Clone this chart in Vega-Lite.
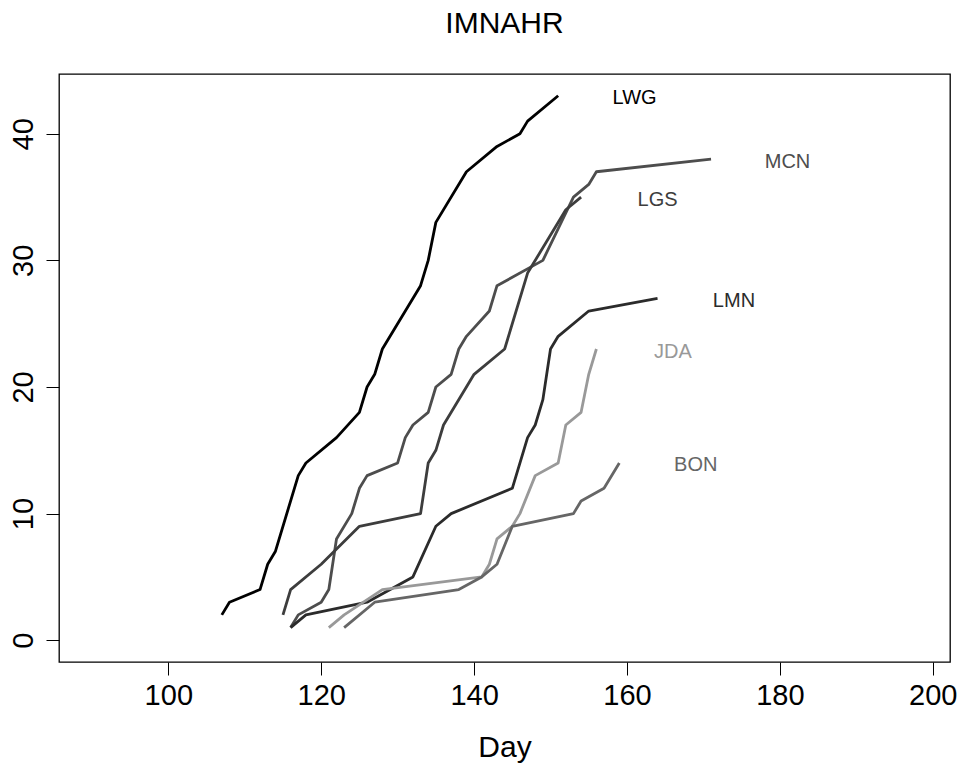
{
  "$schema": "https://vega.github.io/schema/vega-lite/v6.json",
  "autosize": "none",
  "width": 891,
  "height": 588,
  "padding": {"left": 59, "top": 74, "right": 15, "bottom": 108},
  "background": "white",
  "config": {
    "view": {"stroke": "#000000", "strokeWidth": 1.3},
    "font": "Liberation Sans"
  },
  "title": {
    "text": "IMNAHR",
    "fontSize": 30,
    "fontWeight": "normal",
    "font": "Liberation Sans",
    "color": "#000000",
    "anchor": "middle",
    "frame": "group",
    "baseline": "bottom",
    "offset": 5
  },
  "datasets": {
    "counts": [
      {"station": "LWG", "day": 107, "n": 2},
      {"station": "LWG", "day": 108, "n": 3},
      {"station": "LWG", "day": 112, "n": 4},
      {"station": "LWG", "day": 113, "n": 6},
      {"station": "LWG", "day": 114, "n": 7},
      {"station": "LWG", "day": 117, "n": 13},
      {"station": "LWG", "day": 118, "n": 14},
      {"station": "LWG", "day": 122, "n": 16},
      {"station": "LWG", "day": 125, "n": 18},
      {"station": "LWG", "day": 126, "n": 20},
      {"station": "LWG", "day": 127, "n": 21},
      {"station": "LWG", "day": 128, "n": 23},
      {"station": "LWG", "day": 133, "n": 28},
      {"station": "LWG", "day": 134, "n": 30},
      {"station": "LWG", "day": 135, "n": 33},
      {"station": "LWG", "day": 139, "n": 37},
      {"station": "LWG", "day": 143, "n": 39},
      {"station": "LWG", "day": 146, "n": 40},
      {"station": "LWG", "day": 147, "n": 41},
      {"station": "LWG", "day": 151, "n": 43},

      {"station": "MCN", "day": 116, "n": 1},
      {"station": "MCN", "day": 117, "n": 2},
      {"station": "MCN", "day": 120, "n": 3},
      {"station": "MCN", "day": 121, "n": 4},
      {"station": "MCN", "day": 122, "n": 8},
      {"station": "MCN", "day": 124, "n": 10},
      {"station": "MCN", "day": 125, "n": 12},
      {"station": "MCN", "day": 126, "n": 13},
      {"station": "MCN", "day": 130, "n": 14},
      {"station": "MCN", "day": 131, "n": 16},
      {"station": "MCN", "day": 132, "n": 17},
      {"station": "MCN", "day": 134, "n": 18},
      {"station": "MCN", "day": 135, "n": 20},
      {"station": "MCN", "day": 137, "n": 21},
      {"station": "MCN", "day": 138, "n": 23},
      {"station": "MCN", "day": 139, "n": 24},
      {"station": "MCN", "day": 142, "n": 26},
      {"station": "MCN", "day": 143, "n": 28},
      {"station": "MCN", "day": 149, "n": 30},
      {"station": "MCN", "day": 153, "n": 35},
      {"station": "MCN", "day": 155, "n": 36},
      {"station": "MCN", "day": 156, "n": 37},
      {"station": "MCN", "day": 171, "n": 38},

      {"station": "LGS", "day": 115, "n": 2},
      {"station": "LGS", "day": 116, "n": 4},
      {"station": "LGS", "day": 120, "n": 6},
      {"station": "LGS", "day": 125, "n": 9},
      {"station": "LGS", "day": 133, "n": 10},
      {"station": "LGS", "day": 134, "n": 14},
      {"station": "LGS", "day": 135, "n": 15},
      {"station": "LGS", "day": 136, "n": 17},
      {"station": "LGS", "day": 140, "n": 21},
      {"station": "LGS", "day": 144, "n": 23},
      {"station": "LGS", "day": 147, "n": 29},
      {"station": "LGS", "day": 152, "n": 34},
      {"station": "LGS", "day": 154, "n": 35},

      {"station": "LMN", "day": 116, "n": 1},
      {"station": "LMN", "day": 118, "n": 2},
      {"station": "LMN", "day": 126, "n": 3},
      {"station": "LMN", "day": 132, "n": 5},
      {"station": "LMN", "day": 135, "n": 9},
      {"station": "LMN", "day": 137, "n": 10},
      {"station": "LMN", "day": 145, "n": 12},
      {"station": "LMN", "day": 147, "n": 16},
      {"station": "LMN", "day": 148, "n": 17},
      {"station": "LMN", "day": 149, "n": 19},
      {"station": "LMN", "day": 150, "n": 23},
      {"station": "LMN", "day": 151, "n": 24},
      {"station": "LMN", "day": 155, "n": 26},
      {"station": "LMN", "day": 164, "n": 27},

      {"station": "JDA", "day": 121, "n": 1},
      {"station": "JDA", "day": 123, "n": 2},
      {"station": "JDA", "day": 128, "n": 4},
      {"station": "JDA", "day": 141, "n": 5},
      {"station": "JDA", "day": 142, "n": 6},
      {"station": "JDA", "day": 143, "n": 8},
      {"station": "JDA", "day": 145, "n": 9},
      {"station": "JDA", "day": 146, "n": 10},
      {"station": "JDA", "day": 148, "n": 13},
      {"station": "JDA", "day": 151, "n": 14},
      {"station": "JDA", "day": 152, "n": 17},
      {"station": "JDA", "day": 154, "n": 18},
      {"station": "JDA", "day": 155, "n": 21},
      {"station": "JDA", "day": 156, "n": 23},

      {"station": "BON", "day": 123, "n": 1},
      {"station": "BON", "day": 127, "n": 3},
      {"station": "BON", "day": 138, "n": 4},
      {"station": "BON", "day": 141, "n": 5},
      {"station": "BON", "day": 143, "n": 6},
      {"station": "BON", "day": 145, "n": 9},
      {"station": "BON", "day": 153, "n": 10},
      {"station": "BON", "day": 154, "n": 11},
      {"station": "BON", "day": 157, "n": 12},
      {"station": "BON", "day": 159, "n": 14}
    ],
    "labels": [
      {"station": "LWG", "day": 161, "n": 42.8},
      {"station": "MCN", "day": 181, "n": 37.8},
      {"station": "LGS", "day": 164, "n": 34.8},
      {"station": "LMN", "day": 174, "n": 26.8},
      {"station": "JDA", "day": 166, "n": 22.8},
      {"station": "BON", "day": 169, "n": 13.8}
    ]
  },
  "layer": [
    {
      "data": {"name": "counts"},
      "mark": {"type": "line", "strokeWidth": 2.8, "strokeJoin": "round", "strokeCap": "butt"},
      "encoding": {
        "x": {
          "field": "day", "type": "quantitative",
          "scale": {"domain": [85.7, 202.26], "nice": false, "zero": false},
          "axis": {
            "title": "Day",
            "values": [100, 120, 140, 160, 180, 200],
            "domain": false, "grid": false,
            "tickSize": 13, "tickColor": "#000000", "tickWidth": 1,
            "labelFontSize": 29, "labelFont": "Liberation Sans", "labelColor": "#000000",
            "labelPadding": 6, "labelFlush": false,
            "titleFontSize": 30, "titleFont": "Liberation Sans", "titleFontWeight": "normal", "titleColor": "#000000",
            "titlePadding": 22
          }
        },
        "y": {
          "field": "n", "type": "quantitative",
          "scale": {"domain": [-1.72, 44.72], "nice": false, "zero": false},
          "axis": {
            "title": null,
            "values": [0, 10, 20, 30, 40],
            "domain": false, "grid": false,
            "tickSize": 13, "tickColor": "#000000", "tickWidth": 1,
            "labelFontSize": 29, "labelFont": "Liberation Sans", "labelColor": "#000000",
            "labelAngle": 270, "labelAlign": "center", "labelBaseline": "bottom",
            "labelPadding": 8, "labelFlush": false
          }
        },
        "color": {
          "field": "station", "type": "nominal",
          "scale": {
            "domain": ["LWG", "MCN", "LGS", "LMN", "JDA", "BON"],
            "range": ["#000000", "#4d4d4d", "#3d3d3d", "#2b2b2b", "#999999", "#666666"]
          },
          "legend": null
        },
        "detail": {"field": "station"}
      }
    },
    {
      "data": {"name": "labels"},
      "mark": {"type": "text", "fontSize": 20, "font": "Liberation Sans", "align": "center", "baseline": "middle"},
      "encoding": {
        "x": {"field": "day", "type": "quantitative"},
        "y": {"field": "n", "type": "quantitative"},
        "text": {"field": "station"},
        "color": {
          "field": "station", "type": "nominal",
          "scale": {
            "domain": ["LWG", "MCN", "LGS", "LMN", "JDA", "BON"],
            "range": ["#000000", "#4d4d4d", "#3d3d3d", "#2b2b2b", "#999999", "#666666"]
          },
          "legend": null
        }
      }
    }
  ]
}
